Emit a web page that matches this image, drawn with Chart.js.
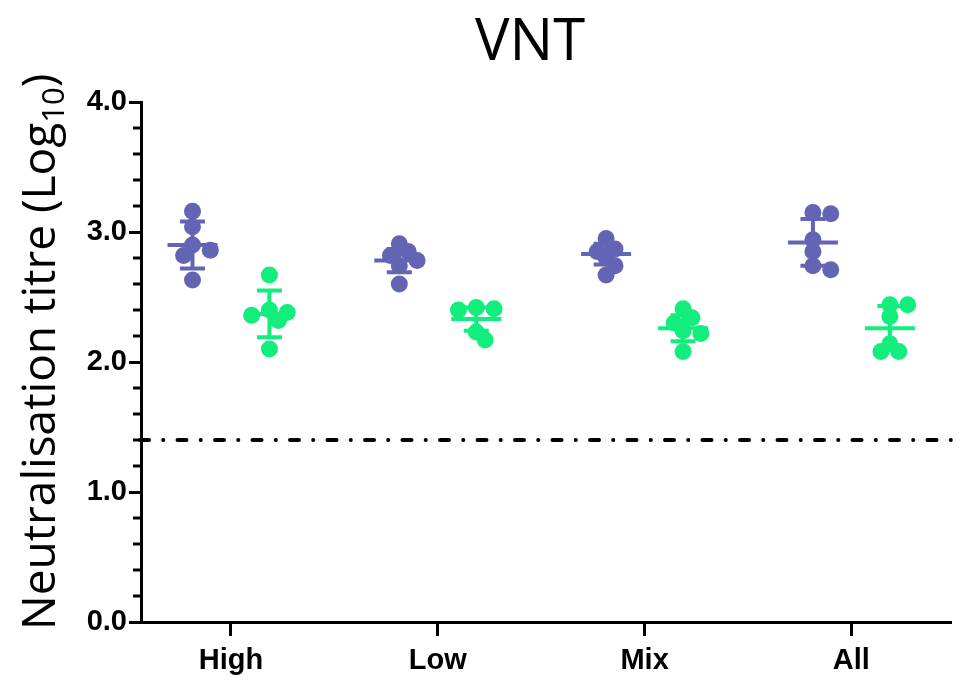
<!DOCTYPE html>
<html>
<head>
<meta charset="utf-8">
<script src="https://cdn.jsdelivr.net/npm/chart.js@4.4.0/dist/chart.umd.min.js"></script>
<style>
    html, body { margin: 0; padding: 0; background: #fff; }
    #area { width: 960px; height: 686px; position: relative; }
</style>
</head>
<body>
<div id="area"><canvas id="grafico"></canvas></div>
<script>
// categorias do eixo x
const categorias = ['High', 'Low', 'Mix', 'All']

// valores individuais (log10)
const roxoValores = [
    [3.16, 3.04, 2.90, 2.86, 2.82, 2.63],
    [2.91, 2.85, 2.82, 2.78, 2.74, 2.60],
    [2.95, 2.87, 2.85, 2.80, 2.74, 2.67],
    [3.15, 3.14, 2.94, 2.85, 2.74, 2.71]
]
const verdeValores = [
    [2.67, 2.40, 2.38, 2.36, 2.32, 2.10],
    [2.42, 2.41, 2.40, 2.23, 2.17],
    [2.41, 2.34, 2.30, 2.24, 2.22, 2.08],
    [2.44, 2.44, 2.35, 2.14, 2.08, 2.08]
]

// média e desvio padrão (barras)
const roxoMedia = [2.90, 2.78, 2.83, 2.92]
const roxoDP = [0.18, 0.09, 0.08, 0.18]
const verdeMedia = [2.37, 2.33, 2.26, 2.26]
const verdeDP = [0.18, 0.09, 0.10, 0.17]

// limite de detecção (linha traço-ponto)
const limiteDeteccao = 1.4

const corRoxo = '#6464b4'
const corVerde = '#12ee7e'
const ladoGrupo = 0.186

// aproximação de pixels por unidade, só para espalhar pontos sobrepostos
const pxX = 209
const pxY = 130

function espalhar(valores) {
    const ordem = valores.map((v, i) => i).sort((a, b) => valores[b] - valores[a])
    const colocados = []
    const desloc = new Array(valores.length).fill(0)
    const passos = [0, 9, -9, 18, -18, 24, -24]
    ordem.forEach(i => {
        const yv = valores[i] * pxY
        for (const dx of passos) {
            const livre = colocados.every(p => Math.hypot(p.dx - dx, p.y - yv) >= 11)
            if (livre) {
                desloc[i] = dx
                colocados.push({ dx: dx, y: yv })
                break
            }
        }
    })
    return desloc.map(d => d / pxX)
}

function montarPontos(grupos, lado) {
    const pontos = []
    grupos.forEach((valores, i) => {
        const desloc = espalhar(valores)
        valores.forEach((v, j) => pontos.push({ x: i + 1 + lado + desloc[j], y: v }))
    })
    return pontos
}

const ehInteiro = v => Math.abs(v - Math.round(v)) < 1e-6

const linhaLimite = {
    id: 'linhaLimite',
    beforeDatasetsDraw(chart) {
        const { ctx, chartArea, scales } = chart
        const yy = scales.y.getPixelForValue(limiteDeteccao)
        ctx.save()
        ctx.strokeStyle = '#000'
        ctx.lineWidth = 4
        ctx.lineCap = 'round'
        ctx.setLineDash([9, 14.2, 0.1, 14.2])
        ctx.beginPath()
        ctx.moveTo(chartArea.left - 1, yy)
        ctx.lineTo(chartArea.right, yy)
        ctx.stroke()
        ctx.restore()
    }
}

const barrasErro = {
    id: 'barrasErro',
    afterDatasetsDraw(chart) {
        const { ctx, scales: { x, y } } = chart
        const grupos = [
            { media: roxoMedia, dp: roxoDP, cor: corRoxo, lado: -ladoGrupo },
            { media: verdeMedia, dp: verdeDP, cor: corVerde, lado: ladoGrupo }
        ]
        ctx.save()
        ctx.lineWidth = 4
        grupos.forEach(g => {
            ctx.strokeStyle = g.cor
            g.media.forEach((m, i) => {
                const cx = x.getPixelForValue(i + 1 + g.lado)
                const ym = y.getPixelForValue(m)
                const y1 = y.getPixelForValue(m + g.dp[i])
                const y2 = y.getPixelForValue(m - g.dp[i])
                ctx.beginPath()
                ctx.moveTo(cx - 25, ym); ctx.lineTo(cx + 25, ym)
                ctx.moveTo(cx, y1); ctx.lineTo(cx, y2)
                ctx.moveTo(cx - 12.5, y1); ctx.lineTo(cx + 12.5, y1)
                ctx.moveTo(cx - 12.5, y2); ctx.lineTo(cx + 12.5, y2)
                ctx.stroke()
            })
        })
        ctx.restore()
    }
}

const textosExtras = {
    id: 'textosExtras',
    afterDraw(chart) {
        const { ctx, chartArea, scales } = chart
        ctx.save()

        // ticks menores do eixo y
        ctx.strokeStyle = '#000'
        ctx.lineWidth = 3
        scales.y.ticks.forEach(t => {
            if (ehInteiro(t.value)) return
            const yy = scales.y.getPixelForValue(t.value)
            ctx.beginPath()
            ctx.moveTo(chartArea.left - 8, yy)
            ctx.lineTo(chartArea.left, yy)
            ctx.stroke()
        })

        // título
        ctx.fillStyle = '#000'
        ctx.font = '58px "Open Sans", sans-serif'
        ctx.textAlign = 'center'
        ctx.textBaseline = 'alphabetic'
        ctx.fillText('VNT', 530, 60)

        // título do eixo y com subscrito
        ctx.translate(55, 630)
        ctx.rotate(-Math.PI / 2)
        ctx.textAlign = 'left'
        ctx.font = '46px "Open Sans", sans-serif'
        const parte1 = 'Neutralisation titre (Log'
        ctx.fillText(parte1, 0, 0)
        let pos = ctx.measureText(parte1).width
        ctx.font = '31px "Open Sans", sans-serif'
        ctx.fillText('10', pos, 9)
        pos += ctx.measureText('10').width
        ctx.font = '46px "Open Sans", sans-serif'
        ctx.fillText(')', pos, 0)

        ctx.restore()
    }
}

const ctx = document.getElementById('grafico').getContext('2d')

const grafico = new Chart(ctx, {
    type: 'scatter',
    data: {
        datasets: [{
            label: 'roxo',
            data: montarPontos(roxoValores, -ladoGrupo),
            backgroundColor: corRoxo,
            borderWidth: 0,
            pointRadius: 8.5,
            pointHoverRadius: 8.5
        }, {
            label: 'verde',
            data: montarPontos(verdeValores, ladoGrupo),
            backgroundColor: corVerde,
            borderWidth: 0,
            pointRadius: 8.5,
            pointHoverRadius: 8.5
        }]
    },
    options: {
        responsive: true,
        maintainAspectRatio: false,
        animation: false,
        layout: { padding: { top: 102, left: 0, right: 0, bottom: 0 } },
        plugins: {
            legend: { display: false },
            tooltip: { enabled: false }
        },
        scales: {
            x: {
                type: 'linear',
                min: 0.565,
                max: 4.484,
                afterBuildTicks: s => { s.ticks = categorias.map((c, i) => ({ value: i + 1 })) },
                afterFit: s => { s.height = 64 },
                border: { display: true, color: '#000', width: 3 },
                grid: { display: true, drawOnChartArea: false, drawTicks: true, tickLength: 14, tickColor: '#000', tickWidth: 3 },
                ticks: {
                    callback: v => categorias[Math.round(v) - 1],
                    font: { family: '"Liberation Sans", Arial, sans-serif', size: 29, weight: 'bold' },
                    color: '#000',
                    padding: 8,
                    maxRotation: 0,
                    autoSkip: false
                }
            },
            y: {
                min: 0,
                max: 4,
                afterFit: s => { s.width = 141 },
                border: { display: true, color: '#000', width: 3 },
                grid: {
                    display: true,
                    drawOnChartArea: false,
                    drawTicks: true,
                    tickLength: 12,
                    tickWidth: 3,
                    tickColor: c => ehInteiro(c.tick.value) ? '#000' : 'rgba(0,0,0,0)'
                },
                ticks: {
                    stepSize: 0.2,
                    callback: v => ehInteiro(v) ? v.toFixed(1) : '',
                    font: { family: '"Liberation Sans", Arial, sans-serif', size: 29, weight: 'bold' },
                    color: '#000',
                    padding: 2,
                    autoSkip: false
                }
            }
        }
    },
    plugins: [linhaLimite, barrasErro, textosExtras]
})
</script>
</body>
</html>
